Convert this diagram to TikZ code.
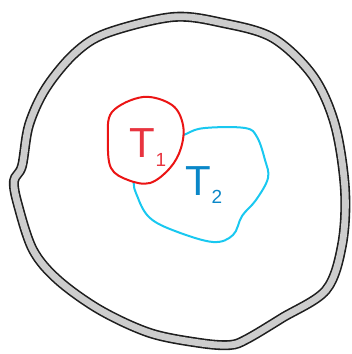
\documentclass[tikz,border=0pt]{standalone}
\usepackage{tikz}
\usepackage{xcolor}
\usepackage{fontspec}
\setmainfont{Liberation Sans}
\definecolor{wallgray}{RGB}{205,205,205}
\definecolor{wallblack}{RGB}{30,30,30}
\definecolor{tonered}{RGB}{235,20,20}
\definecolor{labelred}{RGB}{232,52,63}
\definecolor{lightcyan}{RGB}{25,200,240}
\definecolor{labelblue}{RGB}{10,135,200}

\begin{document}
\begin{tikzpicture}[x=1pt,y=-1pt]
            \useasboundingbox (0,0) rectangle (352,354);
            % outer wall
            \def\wallpath{plot[smooth cycle, tension=0.55] coordinates {(173,17) (223,23) (273,38) (313,76) (335,125) (345,190) (342,245) (326,290) (282,318) (247,339) (230,345) (200,343) (150,333) (100,310) (58,280) (33,250) (18,205) (14,181) (22,166) (29,125) (46,88) (75,53) (107,33)}}
            \draw[wallblack, line width=10pt] \wallpath;
            \draw[wallgray, line width=6.8pt] \wallpath;

            % region T2
            \draw[lightcyan, line width=2pt] plot[smooth cycle, tension=0.6] coordinates {(186,134) (205,128) (245,128) (257,137) (265,160) (268,178) (256,200) (242,216) (233,235) (213,242) (175,231) (150,218) (138,198) (135,178) (158,150)};
            % region T1
            \draw[tonered, line width=2pt, fill=white] plot[smooth cycle, tension=0.6] coordinates {(143,97) (172,105) (183,125) (181,148) (170,168) (150,183) (128,180) (111,168) (108,140) (112,112)};

            \node[labelred, font=\fontsize{42}{42}\selectfont, inner sep=0] (tone) at (142,143) {T};
            \node[labelred, font=\fontsize{19}{19}\selectfont, inner sep=0] (tonesub) at (161,160) {1};
            \node[labelblue, font=\fontsize{42}{42}\selectfont, inner sep=0] (ttwo) at (198,181) {T};
            \node[labelblue, font=\fontsize{19}{19}\selectfont, inner sep=0] (ttwosub) at (217,197) {2};
        \end{tikzpicture}
\end{document}
